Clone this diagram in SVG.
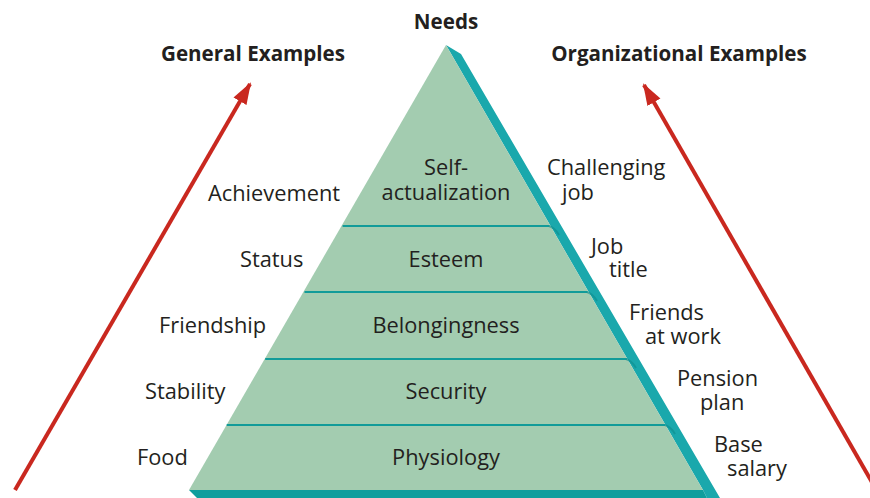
<svg xmlns="http://www.w3.org/2000/svg" width="870" height="498" viewBox="0 0 870 498">
<defs>
<style>
.t{font-family:"Open Sans","Noto Sans",sans-serif;font-size:21.8px;fill:#231f20}
.h{font-family:"Open Sans","Noto Sans",sans-serif;font-size:20.6px;font-weight:bold;fill:#231f20}
.c{text-anchor:middle}
.div{stroke:#129b99;stroke-width:2;fill:none}
.sh{stroke:#0e8c8c;stroke-width:2;fill:none;opacity:0.6}
.arr{stroke:#c9281f;stroke-width:4;fill:none}
</style>
<marker id="ah" markerUnits="userSpaceOnUse" markerWidth="22" markerHeight="22" viewBox="0 0 22 22" refX="20" refY="11" orient="auto">
<path d="M0,3.5 L22,11 L0,18.5 Z" fill="#c9281f"/>
</marker>
</defs>
<rect width="870" height="498" fill="#ffffff"/>

<g id="pyramid">
<polygon points="446,45 461,54 720,498 707,498 703,490" fill="#1aa8ac"/>
<polygon points="189,490 703,490 707,498 197,498" fill="#0f9e9d"/>
<polygon points="446,45 703,490 189,490" fill="#a3ccb0"/>
</g>

<g id="connectors">
<path class="arr" d="M15,490 L250,84" marker-end="url(#ah)"/>
<path class="arr" d="M881,498 L644,85" marker-end="url(#ah)"/>
</g>

<g id="dividers">
<line class="div" x1="342.6" y1="226" x2="549.4" y2="226"/>
<line class="div" x1="304.5" y1="292" x2="587.5" y2="292"/>
<line class="div" x1="265.2" y1="359" x2="626.8" y2="359"/>
<line class="div" x1="226.7" y1="425" x2="665.3" y2="425"/>
<path class="sh" d="M549,226 q6,2 10,9"/>
<path class="sh" d="M587,292 q6,2 10,9"/>
<path class="sh" d="M626,359 q6,2 10,9"/>
<path class="sh" d="M665,425 q6,2 10,9"/>
</g>

<g id="title-needs"><text class="h c" x="446" y="29">Needs</text></g>
<g id="title-general"><text class="h c" x="253" y="61">General Examples</text></g>
<g id="title-org"><text class="h c" x="679" y="61">Organizational Examples</text></g>

<g id="level-self">
<text class="t c" x="446" y="175">Self-</text>
<text class="t c" x="446" y="200">actualization</text>
</g>
<g id="level-esteem"><text class="t c" x="446" y="267">Esteem</text></g>
<g id="level-belong"><text class="t c" x="446" y="333">Belongingness</text></g>
<g id="level-security"><text class="t c" x="446" y="399">Security</text></g>
<g id="level-physio"><text class="t c" x="446" y="465">Physiology</text></g>

<g id="gen-achievement"><text class="t" x="208" y="201">Achievement</text></g>
<g id="gen-status"><text class="t" x="240" y="267">Status</text></g>
<g id="gen-friendship"><text class="t" x="159" y="333">Friendship</text></g>
<g id="gen-stability"><text class="t" x="145" y="399">Stability</text></g>
<g id="gen-food"><text class="t" x="137" y="465">Food</text></g>

<g id="org-challenging">
<text class="t" x="547" y="175">Challenging</text>
<text class="t" x="562" y="200">job</text>
</g>
<g id="org-jobtitle">
<text class="t" x="591" y="254">Job</text>
<text class="t" x="609" y="277">title</text>
</g>
<g id="org-friends">
<text class="t" x="629" y="320">Friends</text>
<text class="t" x="645" y="344">at work</text>
</g>
<g id="org-pension">
<text class="t" x="677" y="386">Pension</text>
<text class="t" x="700" y="410">plan</text>
</g>
<g id="org-base">
<text class="t" x="714" y="452">Base</text>
<text class="t" x="727" y="476">salary</text>
</g>
</svg>
